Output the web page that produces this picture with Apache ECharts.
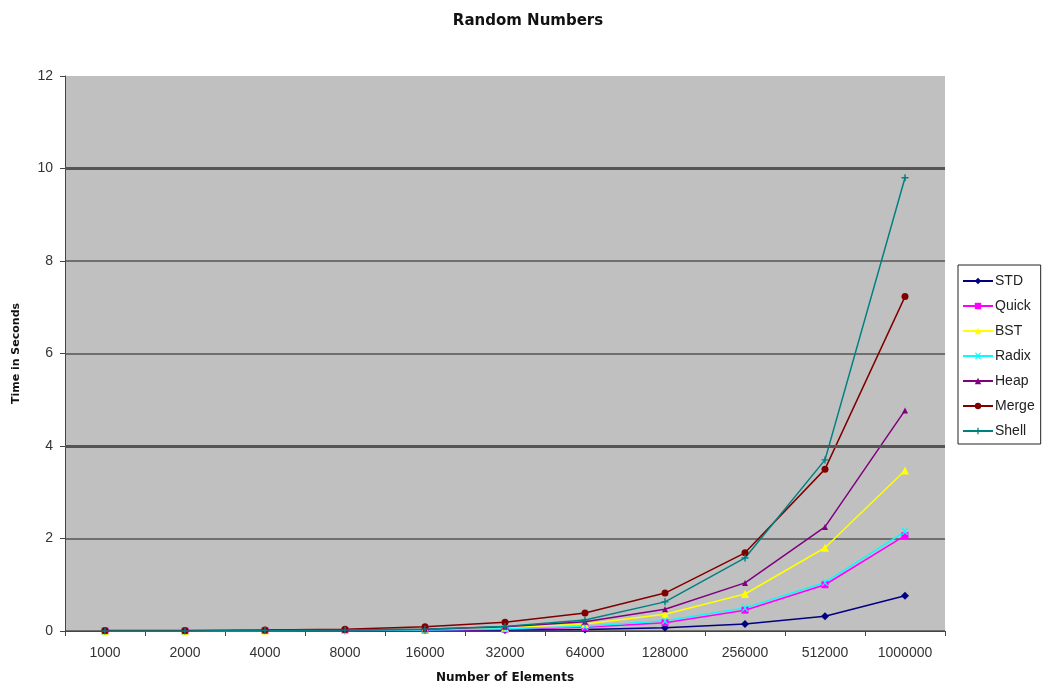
<!DOCTYPE html>
<html>
<head>
<meta charset="utf-8">
<script src="https://cdn.jsdelivr.net/npm/echarts@6/dist/echarts.min.js"></script>
<style>html,body{margin:0;padding:0;background:#fff}#c{width:1044px;height:690px}</style>
</head>
<body>
<div id="c"></div>
<script>
const categories = ['1000','2000','4000','8000','16000','32000','64000','128000','256000','512000','1000000'];
const yTicks = [0, 2, 4, 6, 8, 10, 12];
const stdVals   = [0, 0, 0.01, 0.01, 0.02, 0.02, 0.03, 0.07, 0.15, 0.32, 0.76];
const quickVals = [0, 0, 0.01, 0.01, 0.02, 0.04, 0.08, 0.18, 0.45, 1.0, 2.06];
const bstVals   = [0, 0, 0.01, 0.02, 0.04, 0.07, 0.15, 0.36, 0.8, 1.8, 3.47];
const radixVals = [0, 0, 0.01, 0.01, 0.02, 0.05, 0.1, 0.22, 0.5, 1.05, 2.15];
const heapVals  = [0, 0, 0.01, 0.02, 0.04, 0.09, 0.2, 0.47, 1.04, 2.25, 4.77];
const mergeVals = [0.01, 0.01, 0.02, 0.04, 0.09, 0.19, 0.39, 0.82, 1.69, 3.5, 7.23];
const shellVals = [0, 0, 0.01, 0.02, 0.04, 0.1, 0.24, 0.63, 1.58, 3.7, 9.8];
const thickLines = [10, 4];

const FONT = '"Liberation Sans", Arial, sans-serif';
const BOLDFONT = '"DejaVu Sans", sans-serif';
const xPath = 'path://M0,0 L2,0 L5,3 L8,0 L10,0 L6,5 L10,10 L8,10 L5,7 L2,10 L0,10 L4,5 Z';
const plusPath = 'path://M4,0 L6,0 L6,4 L10,4 L10,6 L6,6 L6,10 L4,10 L4,6 L0,6 L0,4 L4,4 Z';

function mk(name, data, color, symbol, size) {
  return {
    name, type: 'line', data, symbol, symbolSize: size,
    lineStyle: { color, width: 1.5 },
    itemStyle: { color },
    z: 3
  };
}

const series = [
  mk('STD', stdVals, '#000080', 'diamond', 8),
  mk('Quick', quickVals, '#FF00FF', 'rect', 7),
  mk('BST', bstVals, '#FFFF00', 'triangle', 8),
  mk('Radix', radixVals, '#00FFFF', xPath, 7),
  mk('Heap', heapVals, '#800080', 'triangle', 6),
  mk('Merge', mergeVals, '#800000', 'circle', 7),
  mk('Shell', shellVals, '#008080', plusPath, 7)
];
series[0].markLine = {
  silent: true, symbol: 'none', label: { show: false },
  lineStyle: { color: '#555', width: 3, type: 'solid' },
  data: thickLines.map(v => ({ yAxis: v }))
};

const chart = echarts.init(document.getElementById('c'));
chart.setOption({
  animation: false,
  backgroundColor: '#fff',
  title: {
    text: 'Random Numbers', left: 523, top: 9, textAlign: 'center',
    textStyle: { fontFamily: BOLDFONT, fontSize: 15, fontWeight: 'bold', color: '#111' }
  },
  legend: {
    orient: 'vertical', left: 958, top: 265,
    itemWidth: 30, itemHeight: 8, itemGap: 11,
    backgroundColor: '#fff', borderColor: '#222', borderWidth: 1,
    padding: [9, 6, 6, 4],
    textStyle: { fontFamily: FONT, fontSize: 14, color: '#222', padding: [0, 0, 0, -3] },
    data: series.map(s => s.name)
  },
  grid: { left: 65, right: 99, top: 76, bottom: 59, show: true, backgroundColor: '#C0C0C0', borderWidth: 0 },
  xAxis: {
    type: 'category', data: categories, boundaryGap: true,
    name: 'Number of Elements', nameLocation: 'middle', nameGap: 41,
    nameTextStyle: { fontFamily: BOLDFONT, fontSize: 12, fontWeight: 'bold', color: '#111' },
    axisLine: { lineStyle: { color: '#444', width: 1 } },
    axisTick: { show: true, length: 5, alignWithLabel: false, lineStyle: { color: '#444' } },
    axisLabel: { fontFamily: FONT, fontSize: 14, color: '#333', margin: 15 }
  },
  yAxis: {
    type: 'value', min: 0, max: 12, interval: 2,
    name: 'Time in Seconds', nameLocation: 'middle', nameGap: 43,
    nameTextStyle: { fontFamily: BOLDFONT, fontSize: 11, fontWeight: 'bold', color: '#111' },
    axisLine: { show: true, lineStyle: { color: '#444' } },
    axisTick: { show: true, length: 5, lineStyle: { color: '#444' } },
    axisLabel: { fontFamily: FONT, fontSize: 14, color: '#333', margin: 12,
      formatter: v => yTicks.includes(v) ? String(v) : '' },
    splitLine: { show: true, lineStyle: { color: ['#555','#555','#555','#555','#555','#555','rgba(0,0,0,0)'], width: 1.5 } }
  },
  series
});
</script>
</body>
</html>
